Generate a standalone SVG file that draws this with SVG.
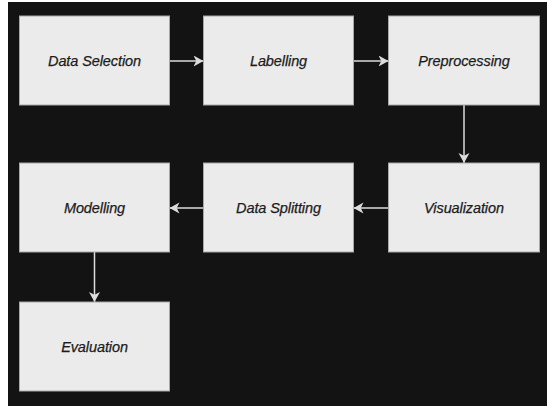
<svg xmlns="http://www.w3.org/2000/svg" width="547" height="406" viewBox="0 0 547 406">
  <style>
    .box { fill: #ebebeb; stroke: #a8a8a8; stroke-width: 1; }
    .label { font-family: "Liberation Sans", sans-serif; font-style: italic; font-size: 14.5px; letter-spacing: -0.1px; fill: #1c1c1c; stroke: #1c1c1c; stroke-width: 0.25; text-anchor: middle; }
    .edge { stroke: #dcdcdc; stroke-width: 1.5; fill: none; marker-end: url(#head); }
  </style>
  <defs>
    <marker id="head" markerUnits="userSpaceOnUse" markerWidth="11" markerHeight="12" refX="10" refY="5.5" orient="auto">
      <path d="M0,0 L10,5.5 L0,11 L2.8,5.5 Z" fill="#dcdcdc"/>
    </marker>
  </defs>

  <!-- page -->
  <rect x="0" y="0" width="547" height="406" fill="#ffffff"/>
  <rect x="8" y="2" width="539" height="404" fill="#131313"/>

  <!-- connectors -->
  <g id="connectors">
    <path class="edge" d="M169.5,61 L203.5,61"/>
    <path class="edge" d="M353.5,61 L388.5,61"/>
    <path class="edge" d="M464,105 L464,163"/>
    <path class="edge" d="M388.5,208 L353.5,208"/>
    <path class="edge" d="M203.5,208 L169.5,208"/>
    <path class="edge" d="M94.5,252 L94.5,302"/>
  </g>

  <!-- nodes -->
  <g id="data-selection">
    <rect class="box" x="19.5" y="16" width="150" height="89"/>
    <text class="label" x="94.5" y="65.5">Data Selection</text>
  </g>
  <g id="labelling">
    <rect class="box" x="203.5" y="16" width="150" height="89"/>
    <text class="label" x="278.5" y="65.5">Labelling</text>
  </g>
  <g id="preprocessing">
    <rect class="box" x="388.5" y="16" width="151" height="89"/>
    <text class="label" x="464" y="65.5">Preprocessing</text>
  </g>
  <g id="visualization">
    <rect class="box" x="388.5" y="163" width="151" height="89"/>
    <text class="label" x="464" y="212.5">Visualization</text>
  </g>
  <g id="data-splitting">
    <rect class="box" x="203.5" y="163" width="150" height="89"/>
    <text class="label" x="278.5" y="212.5">Data Splitting</text>
  </g>
  <g id="modelling">
    <rect class="box" x="19.5" y="163" width="150" height="89"/>
    <text class="label" x="94.5" y="212.5">Modelling</text>
  </g>
  <g id="evaluation">
    <rect class="box" x="19.5" y="302" width="150" height="89"/>
    <text class="label" x="94.5" y="351.5">Evaluation</text>
  </g>
</svg>
